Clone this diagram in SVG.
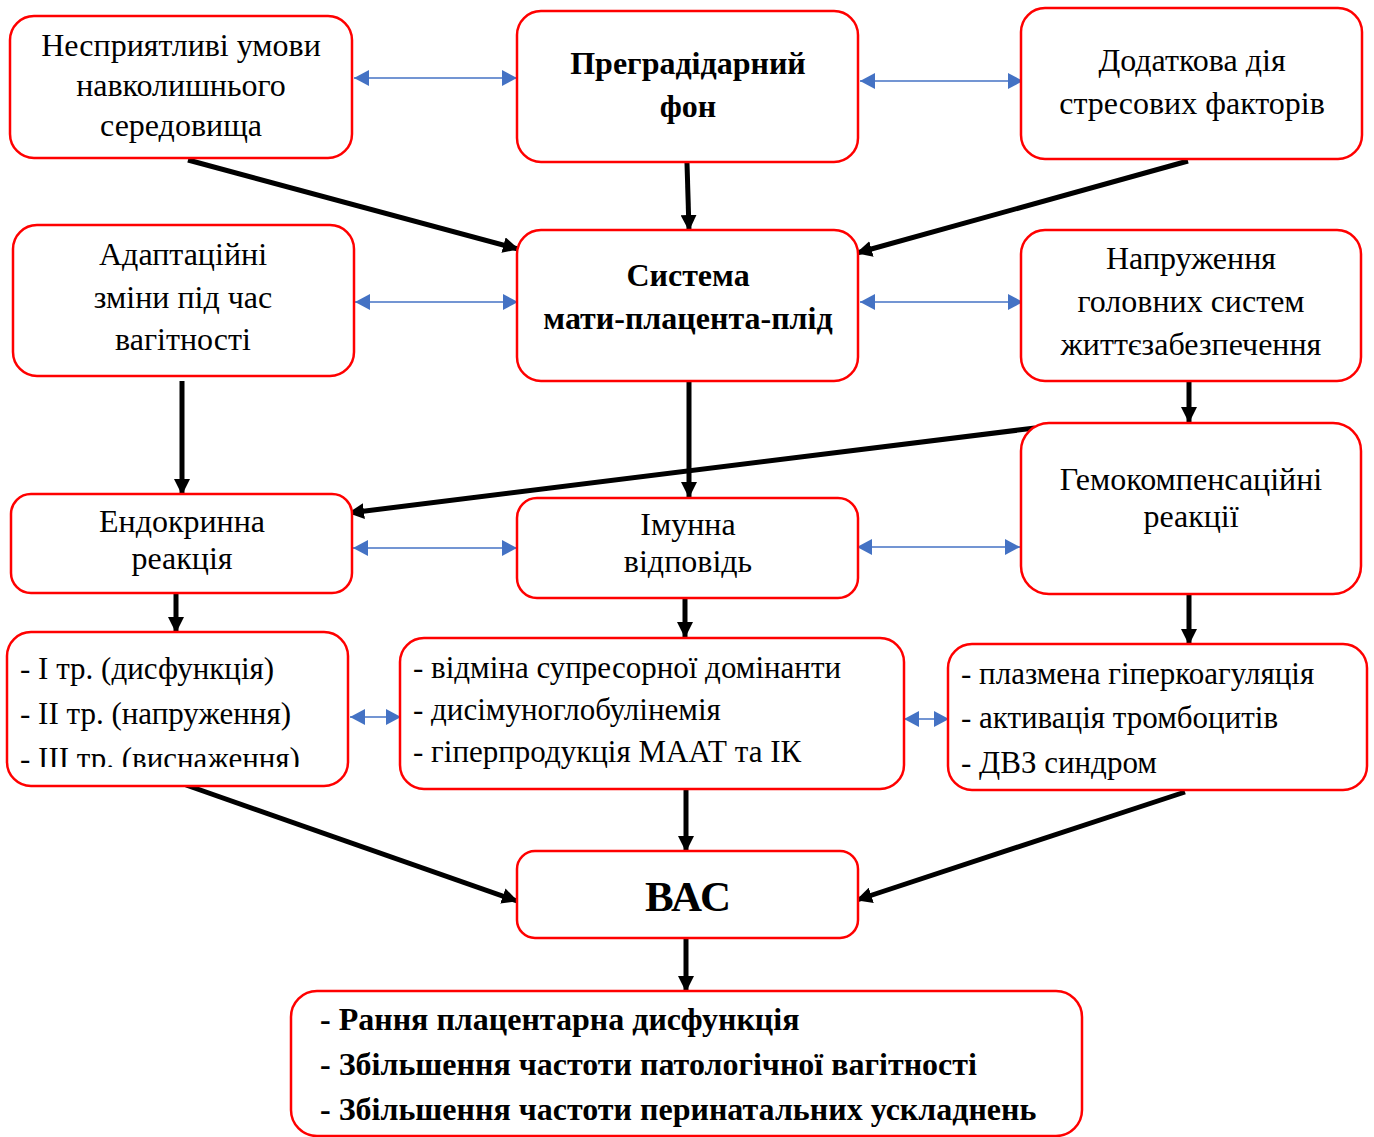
<svg xmlns="http://www.w3.org/2000/svg" width="1374" height="1137" viewBox="0 0 1374 1137">
<style>
.box{fill:#fff;stroke:#ff0000;stroke-width:2.5}
.t{font-family:"Liberation Serif","Times New Roman",serif;font-size:32px;fill:#000}
.l{font-size:31px}
.c{text-anchor:middle}
.b{font-weight:bold}
.k{stroke:#000;stroke-width:5;fill:none}
.bl{stroke:#4472c4;stroke-width:1.5;fill:none}
</style>
<defs>
<marker id="ak" viewBox="0 0 16 16" refX="15" refY="8" markerWidth="16" markerHeight="16" orient="auto" markerUnits="userSpaceOnUse"><path d="M0,0L16,8L0,16z" fill="#000"/></marker>
<marker id="ab" viewBox="0 0 15 16" refX="15" refY="8" markerWidth="15" markerHeight="16" orient="auto-start-reverse" markerUnits="userSpaceOnUse"><path d="M0,0L15,8L0,16z" fill="#4472c4"/></marker>
<clipPath id="clip10"><rect x="0" y="630" width="360" height="137"/></clipPath>
</defs>
<rect width="1374" height="1137" fill="#fff"/>
<g id="connectors">
<line class="k" x1="188" y1="160" x2="518" y2="249" marker-end="url(#ak)"/>
<line class="k" x1="687" y1="163" x2="689" y2="230" marker-end="url(#ak)"/>
<line class="k" x1="1188" y1="161" x2="857" y2="253" marker-end="url(#ak)"/>
<line class="k" x1="182" y1="381" x2="182" y2="494" marker-end="url(#ak)"/>
<line class="k" x1="689" y1="381" x2="689" y2="497" marker-end="url(#ak)"/>
<line class="k" x1="1189" y1="381" x2="1189" y2="422" marker-end="url(#ak)"/>
<line class="k" x1="1035" y1="428" x2="349" y2="513" marker-end="url(#ak)"/>
<line class="k" x1="176" y1="592" x2="176" y2="632" marker-end="url(#ak)"/>
<line class="k" x1="685" y1="597" x2="685" y2="637" marker-end="url(#ak)"/>
<line class="k" x1="1189" y1="595" x2="1189" y2="644" marker-end="url(#ak)"/>
<line class="k" x1="186" y1="785" x2="517" y2="901" marker-end="url(#ak)"/>
<line class="k" x1="686" y1="790" x2="686" y2="851" marker-end="url(#ak)"/>
<line class="k" x1="1185" y1="792" x2="857" y2="900" marker-end="url(#ak)"/>
<line class="k" x1="686" y1="938" x2="686" y2="991" marker-end="url(#ak)"/>
<line class="bl" x1="354" y1="78" x2="517" y2="78" marker-start="url(#ab)" marker-end="url(#ab)"/>
<line class="bl" x1="860" y1="81" x2="1023" y2="81" marker-start="url(#ab)" marker-end="url(#ab)"/>
<line class="bl" x1="355" y1="302" x2="518" y2="302" marker-start="url(#ab)" marker-end="url(#ab)"/>
<line class="bl" x1="860" y1="302" x2="1023" y2="302" marker-start="url(#ab)" marker-end="url(#ab)"/>
<line class="bl" x1="353" y1="548" x2="517" y2="548" marker-start="url(#ab)" marker-end="url(#ab)"/>
<line class="bl" x1="857" y1="547" x2="1020" y2="547" marker-start="url(#ab)" marker-end="url(#ab)"/>
<line class="bl" x1="350" y1="717" x2="401" y2="717" marker-start="url(#ab)" marker-end="url(#ab)"/>
<line class="bl" x1="904" y1="719" x2="949" y2="719" marker-start="url(#ab)" marker-end="url(#ab)"/>
</g>
<g id="n1"><rect class="box" x="10" y="16" width="342" height="142" rx="24"/>
<text class="t c" x="181" y="56">Несприятливі умови</text><text class="t c" x="181" y="96">навколишнього</text><text class="t c" x="181" y="136">середовища</text></g>
<g id="n2"><rect class="box" x="517" y="11" width="341" height="151" rx="24"/>
<text class="t c b" x="688" y="74">Преградідарний</text><text class="t c b" x="688" y="117">фон</text></g>
<g id="n3"><rect class="box" x="1021" y="8" width="341" height="151" rx="24"/>
<text class="t c" x="1192" y="71">Додаткова дія</text><text class="t c" x="1192" y="114">стресових факторів</text></g>
<g id="n4"><rect class="box" x="13" y="225" width="341" height="151" rx="24"/>
<text class="t c" x="183" y="265">Адаптаційні</text><text class="t c" x="183" y="308">зміни під час</text><text class="t c" x="183" y="350">вагітності</text></g>
<g id="n5"><rect class="box" x="517" y="230" width="341" height="151" rx="24"/>
<text class="t c b" x="688" y="286">Система</text><text class="t c b" x="688" y="329">мати-плацента-плід</text></g>
<g id="n6"><rect class="box" x="1021" y="230" width="340" height="151" rx="24"/>
<text class="t c" x="1191" y="269">Напруження</text><text class="t c" x="1191" y="312">головних систем</text><text class="t c" x="1191" y="355">життєзабезпечення</text></g>
<g id="n7"><rect class="box" x="11" y="494" width="341" height="99" rx="20"/>
<text class="t c" x="182" y="532">Ендокринна</text><text class="t c" x="182" y="569">реакція</text></g>
<g id="n8"><rect class="box" x="517" y="498" width="341" height="100" rx="20"/>
<text class="t c" x="688" y="535">Імунна</text><text class="t c" x="688" y="572">відповідь</text></g>
<g id="n9"><rect class="box" x="1021" y="423" width="340" height="171" rx="28"/>
<text class="t c" x="1191" y="490">Гемокомпенсаційні</text><text class="t c" x="1191" y="527">реакції</text></g>
<g id="n10"><rect class="box" x="7" y="632" width="341" height="154" rx="24"/>
<g clip-path="url(#clip10)"><text class="t l" x="20" y="679">- І тр. (дисфункція)</text><text class="t l" x="20" y="724">- ІІ тр. (напруження)</text><text class="t l" x="20" y="769">- ІІІ тр. (виснаження)</text></g></g>
<g id="n11"><rect class="box" x="400" y="638" width="504" height="151" rx="24"/>
<text class="t l" x="413" y="678">- відміна супресорної домінанти</text><text class="t l" x="413" y="720">- дисімуноглобулінемія</text><text class="t l" x="413" y="762">- гіперпродукція МААТ та ІК</text></g>
<g id="n12"><rect class="box" x="948" y="644" width="419" height="146" rx="24"/>
<text class="t l" x="961" y="684">- плазмена гіперкоагуляція</text><text class="t l" x="961" y="728">- активація тромбоцитів</text><text class="t l" x="961" y="773">- ДВЗ синдром</text></g>
<g id="n13"><rect class="box" x="517" y="851" width="341" height="87" rx="18"/>
<text class="t c b" x="688" y="911" style="font-size:43px">ВАС</text></g>
<g id="n14"><rect class="box" x="291" y="991" width="791" height="145" rx="26"/>
<text class="t b" x="320" y="1030">- Рання плацентарна дисфункція</text><text class="t b" x="320" y="1075">- Збільшення частоти патологічної вагітності</text><text class="t b" x="320" y="1120">- Збільшення частоти перинатальних ускладнень</text></g>
</svg>
